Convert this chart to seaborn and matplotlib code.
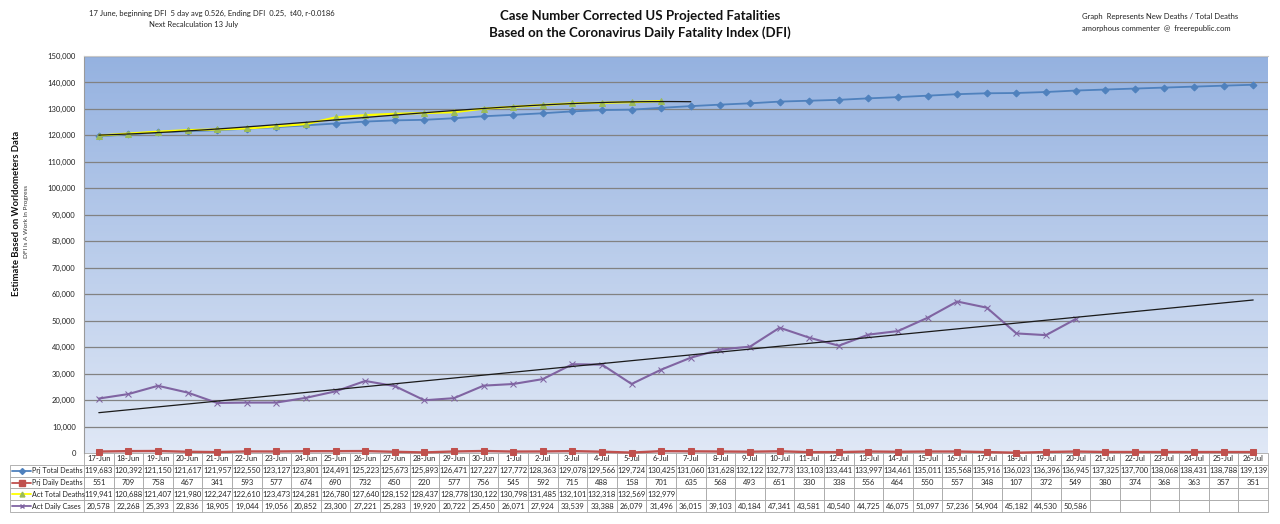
import numpy as np
import seaborn as sns
import matplotlib.pyplot as plt
from matplotlib.colors import LinearSegmentedColormap

dates = ["17-Jun", "18-Jun", "19-Jun", "20-Jun", "21-Jun", "22-Jun", "23-Jun", "24-Jun",
         "25-Jun", "26-Jun", "27-Jun", "28-Jun", "29-Jun", "30-Jun", "1-Jul", "2-Jul",
         "3-Jul", "4-Jul", "5-Jul", "6-Jul", "7-Jul", "8-Jul", "9-Jul", "10-Jul",
         "11-Jul", "12-Jul", "13-Jul", "14-Jul", "15-Jul", "16-Jul", "17-Jul", "18-Jul",
         "19-Jul", "20-Jul", "21-Jul", "22-Jul", "23-Jul", "24-Jul", "25-Jul", "26-Jul"]

prj_total = [119683, 120392, 121150, 121617, 121957, 122550, 123127, 123801, 124491, 125223,
             125673, 125893, 126471, 127227, 127772, 128363, 129078, 129566, 129724, 130425,
             131060, 131628, 132122, 132773, 133103, 133441, 133997, 134461, 135011, 135568,
             135916, 136023, 136396, 136945, 137325, 137700, 138068, 138431, 138788, 139139]
prj_daily = [551, 709, 758, 467, 341, 593, 577, 674, 690, 732, 450, 220, 577, 756, 545, 592,
             715, 488, 158, 701, 635, 568, 493, 651, 330, 338, 556, 464, 550, 557, 348, 107,
             372, 549, 380, 374, 368, 363, 357, 351]
act_total = [119941, 120688, 121407, 121980, 122247, 122610, 123473, 124281, 126780, 127640,
             128152, 128437, 128778, 130122, 130798, 131485, 132101, 132318, 132569, 132979]
act_cases = [20578, 22268, 25393, 22836, 18905, 19044, 19056, 20852, 23300, 27221, 25283,
             19920, 20722, 25450, 26071, 27924, 33539, 33388, 26079, 31496, 36015, 39103,
             40184, 47341, 43581, 40540, 44725, 46075, 51097, 57236, 54904, 45182, 44530,
             50586]

row_names = ["Prj Total Deaths", "Prj Daily Deaths", "Act Total Deaths", "Act Daily Cases"]

sns.set_style("white")
plt.rcParams["font.family"] = ["Lato", "DejaVu Sans"]

W, H = 1280, 524
fig = plt.figure(figsize=(W / 100, H / 100), dpi=100)
left, right, top, bottom = 84, 1268, 56, 453
ax = fig.add_axes([left / W, 1 - bottom / H, (right - left) / W, (bottom - top) / H])

n = len(dates)
x = np.arange(n)

# gradient background
cmap = LinearSegmentedColormap.from_list("bg", ["#e0e8f6", "#95b2e0"])
grad = np.linspace(1, 0, 256).reshape(-1, 1)
ax.imshow(grad, extent=[-0.5, n - 0.5, 0, 150000], aspect="auto", cmap=cmap, zorder=0)

for yv in range(10000, 150001, 10000):
    ax.axhline(yv, color="#828282", lw=0.9, zorder=1)

c_blue, c_red, c_green, c_purple = "#4f81bd", "#c0504d", "#9bbb59", "#8064a2"

sns.lineplot(x=x, y=prj_total, ax=ax, color=c_blue, lw=1.3, marker="D", markersize=3.5,
             markeredgecolor=c_blue, zorder=4)
sns.lineplot(x=x, y=prj_daily, ax=ax, color=c_red, lw=1.7, marker="s", markersize=5,
             markeredgecolor=c_red, zorder=4, clip_on=False)
xa = np.arange(len(act_total))
sns.lineplot(x=xa, y=act_total, ax=ax, color="#ffff00", lw=1.6, marker="^", markersize=4.5,
             markerfacecolor=c_green, markeredgecolor=c_green, zorder=5)
xc = np.arange(len(act_cases))
sns.lineplot(x=xc, y=act_cases, ax=ax, color=c_purple, lw=1.5, marker="x", markersize=4.5,
             markeredgecolor=c_purple, zorder=4)

# trendlines, forecast forward like Excel
p1 = np.polyfit(xa, act_total, 3)
xt1 = np.linspace(0, len(act_total), 60)
ax.plot(xt1, np.polyval(p1, xt1), color="#1a1a1a", lw=0.9, zorder=6)
p2 = np.polyfit(xc, act_cases, 1)
xt2 = np.array([0, n - 1])
ax.plot(xt2, np.polyval(p2, xt2), color="#1a1a1a", lw=0.9, zorder=6)

ax.set_xlim(-0.5, n - 0.5)
ax.set_ylim(0, 150000)
ax.set_xticks([])
ax.set_yticks(range(0, 150001, 10000))
ax.set_yticklabels([f"{v:,}" for v in range(0, 150001, 10000)], fontsize=5.5, color="#222222")
ax.tick_params(axis="y", length=0, pad=6)
for s in ["right", "bottom"]:
    ax.spines[s].set_visible(False)
ax.spines["left"].set_color("#9a9a9a")
ax.spines["top"].set_color("#c8c8c8")

# data table
def fmt(v):
    return f"{v:,}"

cells = [
    [fmt(v) for v in prj_total],
    [str(v) for v in prj_daily],
    [fmt(v) for v in act_total] + [""] * (n - len(act_total)),
    [fmt(v) for v in act_cases] + [""] * (n - len(act_cases)),
]
axh = bottom - top
th = (512 - bottom) / axh
tab = ax.table(cellText=cells, colLabels=dates, cellLoc="center",
               bbox=[0, -th, 1, th])
tab.auto_set_font_size(False)
tab.set_fontsize(5.5)
for (r, c), cell in tab.get_celld().items():
    cell.set_edgecolor("#a6a6a6")
    cell.set_linewidth(0.6)
    cell.PAD = 0.02

rh = th / 5
lw_ax = (left - 10) / (right - left)
lab = ax.table(cellText=[[""] for _ in row_names], cellLoc="left",
               bbox=[-lw_ax, -th, lw_ax, rh * 4])
for (r, c), cell in lab.get_celld().items():
    cell.set_edgecolor("#a6a6a6")
    cell.set_linewidth(0.6)

styles = [(c_blue, c_blue, "D", 3), (c_red, c_red, "s", 4), ("#ffff00", c_green, "^", 3.5),
          (c_purple, c_purple, "x", 3.5)]
px = lambda p: (p - left) / (right - left)
for i, (name, (lc, mc, mk, ms)) in enumerate(zip(row_names, styles)):
    yc = -th + rh * 4 - rh * (i + 0.5)
    ax.plot([px(12), px(31)], [yc, yc], color=lc, lw=1.3, transform=ax.transAxes,
            clip_on=False)
    ax.plot([px(21.5)], [yc], marker=mk, color=mc, markersize=ms, transform=ax.transAxes,
            clip_on=False, lw=0)
    ax.text(px(32), yc, name, transform=ax.transAxes, fontsize=5.1, va="center", ha="left",
            color="#222222")

# titles and notes
fig.text(212 / W, 1 - 13 / H, "17 June, beginning DFI  5 day avg 0.526, Ending DFI  0.25,  t40, r-0.0186",
         ha="center", va="center", fontsize=5.5, color="#222222")
fig.text(194 / W, 1 - 25 / H, "Next Recalculation 13 July", ha="center", va="center",
         fontsize=5.5, color="#222222")
fig.text(640 / W, 1 - 16 / H, "Case Number Corrected US Projected Fatalities", ha="center",
         va="center", fontsize=9.5, fontweight="bold", color="#111111")
fig.text(640 / W, 1 - 33 / H, "Based on the Coronavirus Daily Fatality Index (DFI)", ha="center",
         va="center", fontsize=9.5, fontweight="bold", color="#111111")
fig.text(1082 / W, 1 - 16 / H, "Graph  Represents New Deaths / Total Deaths", ha="left",
         va="center", fontsize=5.5, color="#222222")
fig.text(1082 / W, 1 - 28 / H, "amorphous commenter  @  freerepublic.com", ha="left",
         va="center", fontsize=5.5, color="#222222")
fig.text(17 / W, 1 - 213 / H, "Estimate Based on Worldometers Data", rotation=90, ha="center",
         va="center", fontsize=6.8, fontweight="bold", color="#111111")
fig.text(27 / W, 1 - 222 / H, "DFI Is A Work In Progress", rotation=90, ha="center",
         va="center", fontsize=4.6, color="#333333")

fig.savefig("out.png", dpi=100)
